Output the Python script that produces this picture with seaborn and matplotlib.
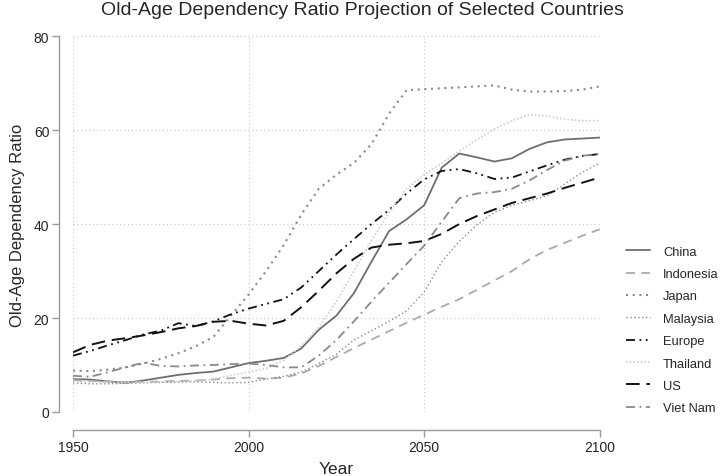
import pandas as pd
import matplotlib
matplotlib.use("Agg")
import matplotlib.pyplot as plt
import seaborn as sns

years = list(range(1950, 2101, 5))

china = [7.0, 6.9, 6.5, 6.2, 6.7, 7.3, 7.9, 8.3, 8.6, 9.5, 10.4, 10.9, 11.5, 13.5, 17.5, 20.5,
         25.3, 32.0, 38.5, 41.0, 44.0, 52.0, 55.0, 54.2, 53.3, 54.0, 56.0, 57.4, 58.0, 58.2, 58.4]
indonesia = [6.8, 6.6, 6.5, 6.4, 6.4, 6.5, 6.6, 6.7, 6.9, 7.2, 7.3, 7.1, 7.3, 8.2, 9.8, 11.7,
             13.6, 15.4, 17.2, 19.0, 20.7, 22.4, 24.0, 26.0, 28.0, 30.0, 32.5, 34.5, 36.0, 37.5, 38.9]
japan = [8.8, 8.7, 9.0, 9.5, 10.3, 11.3, 12.5, 14.0, 16.0, 20.5, 25.0, 30.0, 35.5, 42.0, 47.5, 50.5,
         53.0, 57.0, 63.5, 68.5, 68.7, 68.9, 69.1, 69.3, 69.5, 68.6, 68.2, 68.2, 68.3, 68.6, 69.3]
malaysia = [6.2, 6.0, 6.0, 6.1, 6.2, 6.3, 6.4, 6.4, 6.3, 6.2, 6.3, 7.0, 7.6, 8.5, 10.3, 12.3,
            15.3, 17.3, 19.3, 21.5, 25.5, 32.0, 36.3, 39.8, 42.5, 44.0, 45.0, 46.0, 48.5, 51.0, 53.0]
europe = [12.0, 13.0, 14.2, 15.3, 16.5, 17.3, 18.9, 18.3, 19.3, 20.8, 22.0, 23.0, 24.0, 26.5, 30.0, 33.5,
          36.8, 40.0, 43.0, 46.5, 49.5, 51.3, 51.7, 50.8, 49.6, 49.9, 51.2, 52.5, 53.7, 54.5, 54.9]
thailand = [6.5, 6.4, 6.3, 6.3, 6.3, 6.4, 6.5, 6.6, 7.0, 7.8, 8.5, 9.3, 11.0, 14.0, 18.0, 23.5,
            30.0, 36.5, 42.5, 47.5, 50.5, 53.0, 55.5, 58.0, 60.2, 62.0, 63.3, 63.0, 62.3, 62.0, 62.0]
us = [12.7, 14.3, 15.2, 15.7, 16.3, 17.0, 17.8, 18.3, 19.2, 19.4, 18.8, 18.4, 19.4, 22.3, 25.8, 29.5,
      32.6, 35.0, 35.6, 35.9, 36.4, 37.9, 40.0, 41.7, 43.1, 44.5, 45.5, 46.5, 47.7, 48.8, 49.9]
vietnam = [7.7, 7.5, 8.5, 9.5, 10.5, 9.8, 9.7, 9.9, 10.0, 10.2, 10.3, 10.0, 9.5, 9.5, 12.0, 15.3,
           19.3, 23.5, 27.5, 31.5, 35.4, 40.5, 45.5, 46.5, 46.8, 47.5, 49.3, 51.5, 53.5, 54.5, 55.0]

countries = ["China", "Indonesia", "Japan", "Malaysia", "Europe", "Thailand", "US", "Viet Nam"]
series = [china, indonesia, japan, malaysia, europe, thailand, us, vietnam]

# line look for each series (Stata s1mono-like)
styles = {
    "China":     dict(color="#6e6e6e", linestyle="-", linewidth=1.3),
    "Indonesia": dict(color="#ababab", linestyle=(0, (5, 3.5)), linewidth=1.3),
    "Japan":     dict(color="#8a8a8a", linestyle=(0, (1, 2.2)), linewidth=1.5),
    "Malaysia":  dict(color="#8a8a8a", linestyle=(0, (1, 1.8)), linewidth=1.0),
    "Europe":    dict(color="#111111", linestyle=(0, (5, 2.5, 1, 2.5, 1, 2.5)), linewidth=1.3),
    "Thailand":  dict(color="#cfcfcf", linestyle=(0, (1, 1.2)), linewidth=1.2),
    "US":        dict(color="#111111", linestyle=(0, (7, 3.5)), linewidth=1.4),
    "Viet Nam":  dict(color="#8a8a8a", linestyle=(0, (5, 2.5, 1, 2.5)), linewidth=1.3),
}

df = pd.concat(
    [pd.DataFrame({"Year": years, "Ratio": vals, "Country": name}) for name, vals in zip(countries, series)],
    ignore_index=True,
)

sns.set_style("white")
plt.rcParams["font.family"] = ["Liberation Sans", "DejaVu Sans"]

fig = plt.figure(figsize=(7.24, 4.77), dpi=100)
ax = fig.add_axes([0.1008, 0.1342, 0.7276, 0.788])

for name in countries:
    sub = df[df["Country"] == name]
    sns.lineplot(data=sub, x="Year", y="Ratio", ax=ax, label=name, **styles[name])

ax.set_xlim(1950, 2100)
ax.set_ylim(0, 80)
ax.set_xticks([1950, 2000, 2050, 2100])
ax.set_yticks([0, 20, 40, 60, 80])
ax.grid(True, color="#c8c8c8", linestyle=(0, (1, 2.5)), linewidth=0.8)
ax.set_axisbelow(True)

for side in ["top", "right"]:
    ax.spines[side].set_visible(False)
ax.spines["left"].set_position(("outward", 10))
ax.spines["bottom"].set_position(("outward", 13))
ax.spines["left"].set_bounds(0, 80)
ax.spines["bottom"].set_bounds(1950, 2100)
for side in ["left", "bottom"]:
    ax.spines[side].set_color("#9a9a9a")
    ax.spines[side].set_linewidth(1.0)
ax.tick_params(axis="both", which="major", length=5, width=1.0, color="#9a9a9a",
               labelsize=10, direction="out", left=True, bottom=True, pad=2)

ax.set_xlabel("Year", fontsize=12.5, labelpad=5)
ax.set_ylabel("Old-Age Dependency Ratio", fontsize=12, labelpad=6)
fig.suptitle("Old-Age Dependency Ratio Projection of Selected Countries", fontsize=14, y=0.995)

ax.get_legend().remove()
handles, labels = ax.get_legend_handles_labels()
fig.legend(handles, labels, loc="center left", bbox_to_anchor=(0.864, 0.306), frameon=False,
           fontsize=9.3, handlelength=1.9, handletextpad=1.0, labelspacing=0.8,
           borderpad=0, borderaxespad=0)

fig.savefig("out.png", dpi=100)
